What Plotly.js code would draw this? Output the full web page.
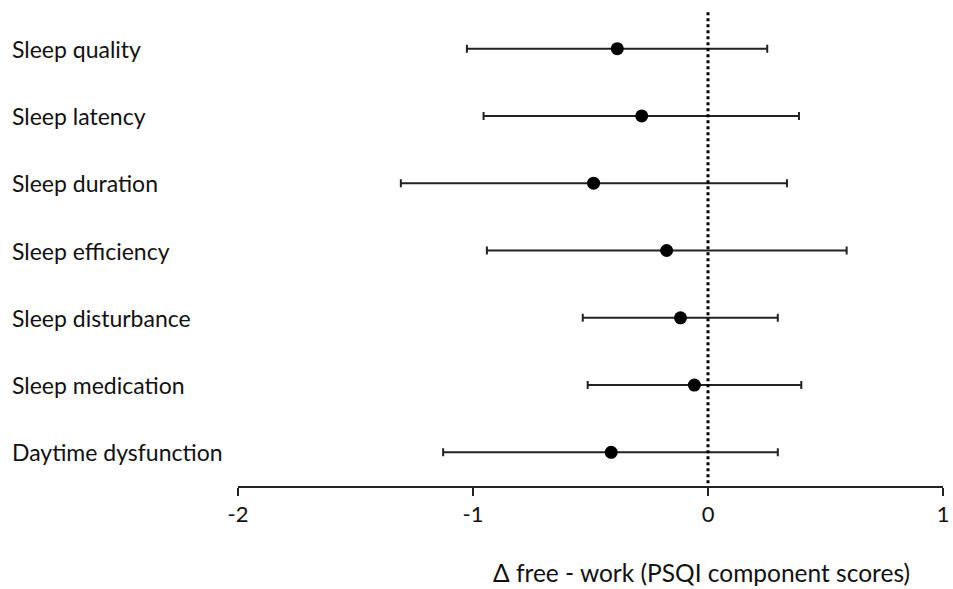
<!DOCTYPE html>
<html>
<head>
<meta charset="utf-8">
<script src="https://cdn.plot.ly/plotly-3.0.1.min.js"></script>
<style>html,body{margin:0;padding:0;background:#fff;}#chart{width:953px;height:589px;}</style>
</head>
<body>
<div id="chart"></div>
<script>
var categories = ["Sleep quality", "Sleep latency", "Sleep duration", "Sleep efficiency", "Sleep disturbance", "Sleep medication", "Daytime dysfunction"];
var meanDiff = [-0.386, -0.282, -0.487, -0.176, -0.117, -0.058, -0.412];
var lowerCI = [-1.026, -0.955, -1.307, -0.941, -0.533, -0.512, -1.127];
var upperCI = [0.252, 0.387, 0.336, 0.590, 0.297, 0.397, 0.297];
var xTickVals = [-2, -1, 0, 1];
var xTickText = ["-2", "-1", "0", "1"];
var xTitle = "Δ free - work (PSQI component scores)";

var FONT = "Lato, 'Open Sans', sans-serif";
var idx = categories.map(function(_, i){ return i; });
var errPlus = upperCI.map(function(u, i){ return u - meanDiff[i]; });
var errMinus = lowerCI.map(function(l, i){ return meanDiff[i] - l; });

var trace = {
  type: "scatter",
  mode: "markers",
  x: meanDiff,
  y: idx,
  marker: {color: "#000", size: 13},
  error_x: {
    type: "data", symmetric: false,
    array: errPlus, arrayminus: errMinus,
    color: "#222", thickness: 2, width: 4
  },
  hoverinfo: "skip",
  showlegend: false,
  cliponaxis: false
};

var annotations = categories.map(function(c, i){
  return {
    text: c, xref: "paper", yref: "y",
    x: -0.3234, y: i, xanchor: "left", yanchor: "middle",
    showarrow: false, font: {family: FONT, size: 23, color: "#111"}
  };
});
annotations.push({
  text: xTitle, xref: "paper", yref: "paper",
  x: 0.657, y: 0, yshift: -86, xanchor: "center", yanchor: "middle",
  showarrow: false, font: {family: FONT, size: 24.5, color: "#111"}
});

var layout = {
  width: 953, height: 589,
  margin: {l: 238, r: 10, t: 15, b: 103},
  paper_bgcolor: "#fff", plot_bgcolor: "#fff",
  font: {family: FONT, size: 20, color: "#111"},
  xaxis: {
    range: [-2, 1], tickvals: xTickVals, ticktext: xTickText,
    showgrid: false, zeroline: false,
    showline: true, linecolor: "#222", linewidth: 2,
    ticks: "outside", ticklen: 8, tickwidth: 2, tickcolor: "#222",
    tickfont: {family: FONT, size: 22, color: "#111"},
    fixedrange: true
  },
  yaxis: {
    range: [6.5, -0.5], showgrid: false, zeroline: false,
    showline: false, showticklabels: false, ticks: "",
    fixedrange: true
  },
  shapes: [{
    type: "line", xref: "x", yref: "paper",
    x0: 0, x1: 0, y0: 0.006, y1: 1.01,
    line: {color: "#000", width: 3, dash: "dot"}
  }],
  annotations: annotations
};

Plotly.newPlot("chart", [trace], layout, {displayModeBar: false, staticPlot: true});
</script>
</body>
</html>
